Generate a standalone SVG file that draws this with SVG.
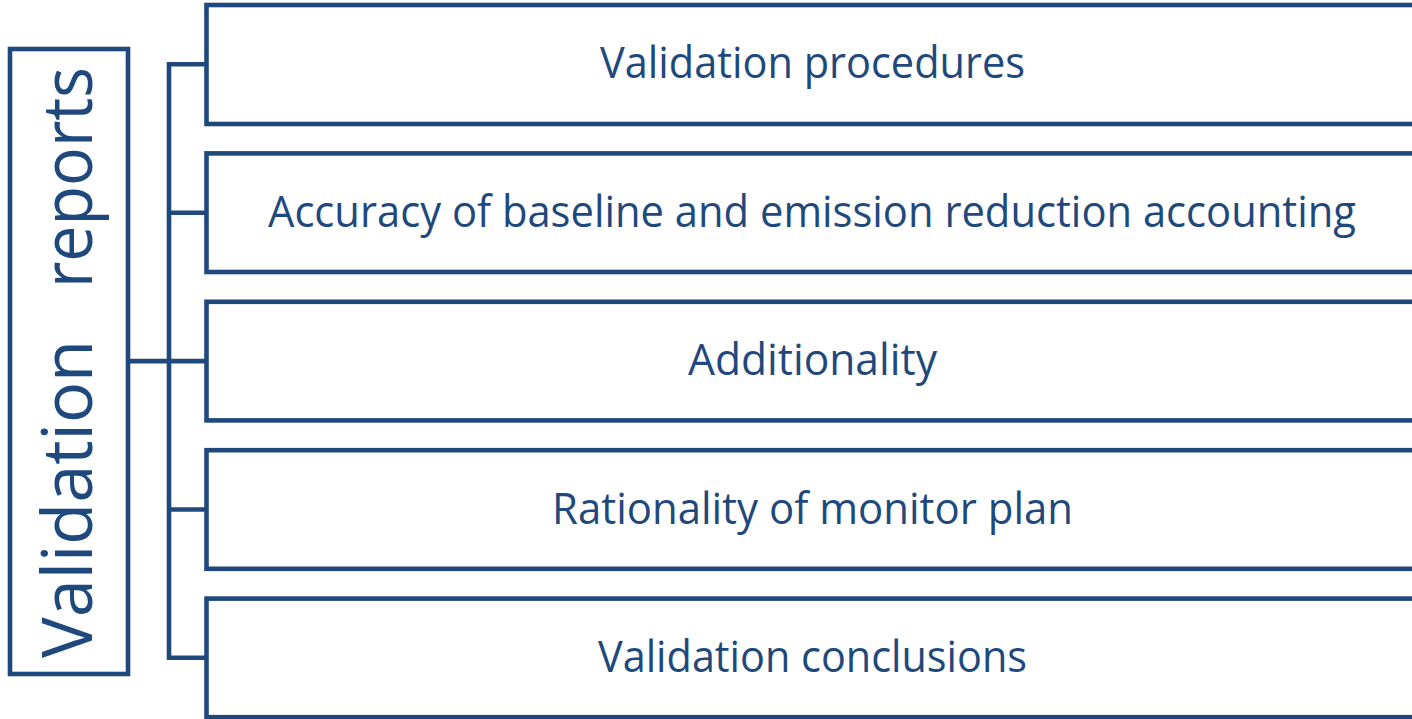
<svg xmlns="http://www.w3.org/2000/svg" width="1412" height="719" viewBox="0 0 1412 719">
  <style>
    .box { fill: #ffffff; stroke: #1F497D; stroke-width: 4.6; }
    .conn { fill: none; stroke: #1F497D; stroke-width: 4.6; }
    .lbl { font-family: "Open Sans", "Liberation Sans", sans-serif; font-size: 44px; fill: #1F497D; text-anchor: middle; }
    .vlbl { font-family: "Open Sans", "Liberation Sans", sans-serif; font-size: 70px; fill: #1F497D; }
  </style>
  <rect width="1412" height="719" fill="#ffffff"/>
  <g id="connectors">
    <path class="conn" d="M206.5,64.3 H169 V657.8 H206.5"/>
    <path class="conn" d="M169,212.7 H206.5"/>
    <path class="conn" d="M130,361.1 H206.5"/>
    <path class="conn" d="M169,509.5 H206.5"/>
  </g>
  <g id="root">
    <rect class="box" x="10" y="49" width="118" height="625"/>
    <text class="vlbl" transform="rotate(-90)" y="91.7"><tspan x="-658" textLength="318" lengthAdjust="spacingAndGlyphs">Validation</tspan> <tspan x="-288" textLength="221" lengthAdjust="spacingAndGlyphs">reports</tspan></text>
  </g>
  <g id="n1">
    <rect class="box" x="206.5" y="5" width="1230" height="119"/>
    <text class="lbl" x="812.5" y="78.3" textLength="425" lengthAdjust="spacingAndGlyphs">Validation procedures</text>
  </g>
  <g id="n2">
    <rect class="box" x="206.5" y="153.4" width="1230" height="118.6"/>
    <text class="lbl" x="812" y="226.7" textLength="1088" lengthAdjust="spacingAndGlyphs">Accuracy of baseline and emission reduction accounting</text>
  </g>
  <g id="n3">
    <rect class="box" x="206.5" y="301.8" width="1230" height="118.6"/>
    <text class="lbl" x="812.5" y="375.1" textLength="249" lengthAdjust="spacingAndGlyphs">Additionality</text>
  </g>
  <g id="n4">
    <rect class="box" x="206.5" y="450.2" width="1230" height="118.6"/>
    <text class="lbl" x="812.5" y="523.5" textLength="521" lengthAdjust="spacingAndGlyphs">Rationality of monitor plan</text>
  </g>
  <g id="n5">
    <rect class="box" x="206.5" y="598.6" width="1230" height="118.6"/>
    <text class="lbl" x="812.5" y="671.9" textLength="429" lengthAdjust="spacingAndGlyphs">Validation conclusions</text>
  </g>
</svg>
